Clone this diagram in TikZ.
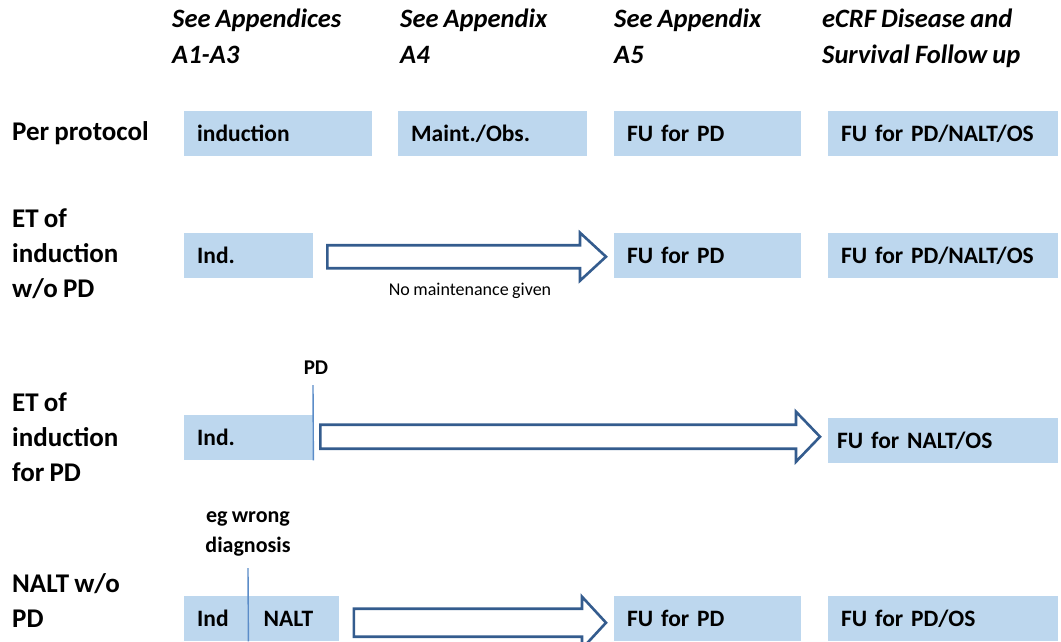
\documentclass[tikz,border=0pt]{standalone}
\usepackage{fontspec}
\setmainfont{Carlito}[WordSpace=0.85]
\usetikzlibrary{calc}
\definecolor{boxblue}{RGB}{189,215,238}
\definecolor{arrowblue}{RGB}{52,92,142}
\definecolor{lineblue}{RGB}{91,140,200}
\begin{document}
\begin{tikzpicture}[x=1pt,y=-1pt,
  box/.style={fill=boxblue, minimum height=45pt, inner xsep=13pt, inner ysep=0pt,
    anchor=north west, align=left, font=\fontsize{23.5}{26}\selectfont\bfseries},
  rowlabel/.style={anchor=west, align=left, inner sep=0pt,
    font=\fontsize{27}{35}\selectfont\bfseries},
  header/.style={anchor=north west, align=left, inner sep=0pt,
    font=\fontsize{26.5}{36}\selectfont\bfseries\itshape},
  blockarrow/.style={draw=arrowblue, line width=2.6pt, fill=white, line join=miter},
  marker/.style={draw=lineblue, line width=1.4pt},
  note/.style={inner sep=0pt, align=center}
]
\useasboundingbox (0,0) rectangle (1061,641);

% headers
\node[header] (h1) at (172,9) {See Appendices\\A1-A3};
\node[header] (h2) at (400,9) {See Appendix\\A4};
\node[header] (h3) at (614,9) {See Appendix\\A5};
\node[header] (h4) at (822,9) {eCRF Disease and\\Survival Follow up};

% row labels
\node[rowlabel] (r1) at (12,133) {Per protocol};
\node[rowlabel] (r2) at (12,254) {ET of\\induction\\w/o PD};
\node[rowlabel] (r3) at (12,437) {ET of\\induction\\for PD};
\node[rowlabel] (r4) at (12,601) {NALT w/o\\PD};

% row 1
\node[box, text width=162pt] (b11) at (184,111) {induction};
\node[box, text width=163pt] (b12) at (398,111) {Maint./Obs.};
\node[box, text width=161pt] (b13) at (614,111) {FU for PD};
\node[box, text width=204pt] (b14) at (828,111) {FU for PD/NALT/OS};

% row 2
\node[box, text width=103pt] (b21) at (184,233) {Ind.};
\node[box, text width=161pt] (b23) at (614,233) {FU for PD};
\node[box, text width=204pt] (b24) at (828,233) {FU for PD/NALT/OS};
\coordinate (a2s) at ($(b21.east)+(14,1)$);
\coordinate (a2e) at ($(b23.west)+(-8,1)$);
\draw[blockarrow] ($(a2s)+(0,-11.5)$) -- ($(a2e)+(-26,-11.5)$) -- ($(a2e)+(-26,-24)$)
  -- (a2e) -- ($(a2e)+(-26,24)$) -- ($(a2e)+(-26,11.5)$) -- ($(a2s)+(0,11.5)$) -- cycle;
\node[note, font=\fontsize{18}{21}\selectfont] (n2) at (470,291) {No maintenance given};

% row 3
\node[box, text width=103pt] (b31) at (184,415) {Ind.};
\node[box, text width=212pt, inner xsep=9pt] (b34) at (828,418) {FU for NALT/OS};
\coordinate (pdtop) at (313,385);
\draw[marker] (pdtop) -- (b31.south east);
\node[note, font=\fontsize{21}{24}\selectfont\bfseries, anchor=south] (pd) at ($(pdtop)+(3,-10)$) {PD};
\coordinate (a3s) at ($(b31.east)+(7,-1)$);
\coordinate (a3e) at ($(b34.west)+(-8,-4)$);
\draw[blockarrow] ($(a3s)+(0,-12)$) -- ($(a3e)+(-24,-12)$) -- ($(a3e)+(-24,-25)$)
  -- (a3e) -- ($(a3e)+(-24,25)$) -- ($(a3e)+(-24,12)$) -- ($(a3s)+(0,12)$) -- cycle;

% row 4
\node[box, text width=38pt] (b41) at (184,596) {Ind};
\node[box, text width=60pt, inner xsep=15pt] (b42) at (b41.north east) {NALT};
\node[box, text width=161pt] (b43) at (614,596) {FU for PD};
\node[box, text width=204pt] (b44) at (828,596) {FU for PD/OS};
\coordinate (ewtop) at (248,568);
\draw[marker] (ewtop) -- (b41.south east);
\node[note, font=\fontsize{22}{30}\selectfont\bfseries, anchor=south] (ew) at ($(ewtop)+(0,-12)$) {eg wrong\\diagnosis};
\coordinate (a4s) at ($(b42.east)+(15,4)$);
\coordinate (a4e) at ($(b43.west)+(-8,4)$);
\draw[blockarrow] ($(a4s)+(0,-14)$) -- ($(a4e)+(-24,-14)$) -- ($(a4e)+(-24,-26)$)
  -- (a4e) -- ($(a4e)+(-24,26)$) -- ($(a4e)+(-24,14)$) -- ($(a4s)+(0,14)$) -- cycle;
\end{tikzpicture}
\end{document}
